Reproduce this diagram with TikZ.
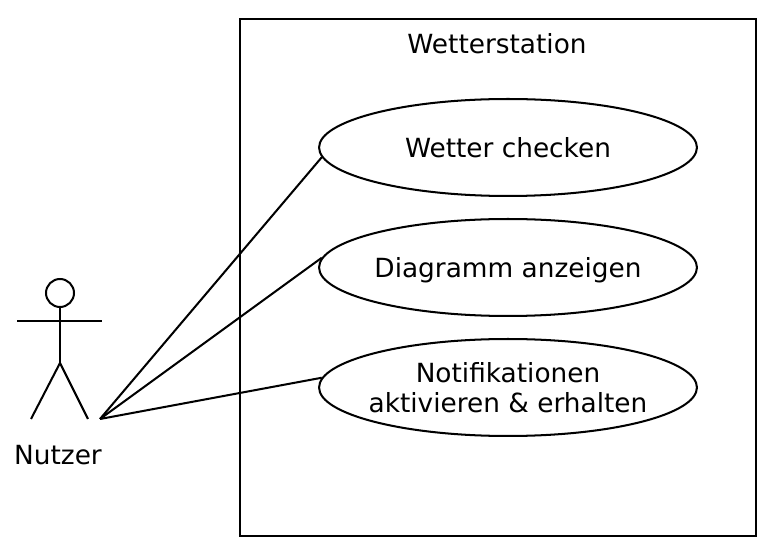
\documentclass[tikz,border=0pt]{standalone}
\usepackage{fontspec}
\setmainfont{DejaVu Sans}
\usetikzlibrary{positioning,shapes.geometric}

\begin{document}
\begin{tikzpicture}[
  x=0.02cm, y=-0.02cm,
  usecase/.style={draw, ellipse, inner xsep=-0.3cm, inner ysep=0pt, minimum width=7.56cm, minimum height=1.94cm, align=center, font=\fontsize{15}{17}\selectfont},
  oneline/.style={text height=12.9pt, text depth=1pt},
  lbl/.style={inner sep=0pt, font=\fontsize{15}{17}\selectfont},
  edg/.style={line width=1.15pt},
  every path/.style={line width=1.15pt}
]
\useasboundingbox (0,0) rectangle (778,560);

\node[draw, minimum width=10.32cm, minimum height=10.34cm, inner sep=0pt] (Sys) at (498,277.5) {};
\node[lbl] (SysName) at (497,44) {Wetterstation};

\node[usecase, oneline] (UC1) at (508,147.5) {Wetter checken};
\node[usecase, oneline] (UC2) at (508,267.5) {Diagramm anzeigen};
\node[usecase] (UC3) at (508,387.5) {Notifikationen\\aktivieren \& erhalten};

% Strichmaennchen
\node[draw, circle, minimum size=0.56cm, inner sep=0pt] (Head) at (60,293) {};
\coordinate (Hip) at (60,363);
\coordinate (ArmL) at (17,321);
\coordinate (ArmR) at (102,321);
\coordinate (FootL) at (31,419);
\coordinate (FootR) at (88,419);
\coordinate (Assoc) at (100,419);
\node[lbl] (Actor) at (58,455) {Nutzer};

\draw[edg] (Head) -- (Hip);
\draw[edg] (ArmL) -- (ArmR);
\draw[edg] (FootL) -- (Hip) -- (FootR);

\draw[edg] (Assoc) -- (UC1.183);
\draw[edg] (Assoc) -- (UC2.177);
\draw[edg] (Assoc) -- (UC3.177);

\end{tikzpicture}
\end{document}
